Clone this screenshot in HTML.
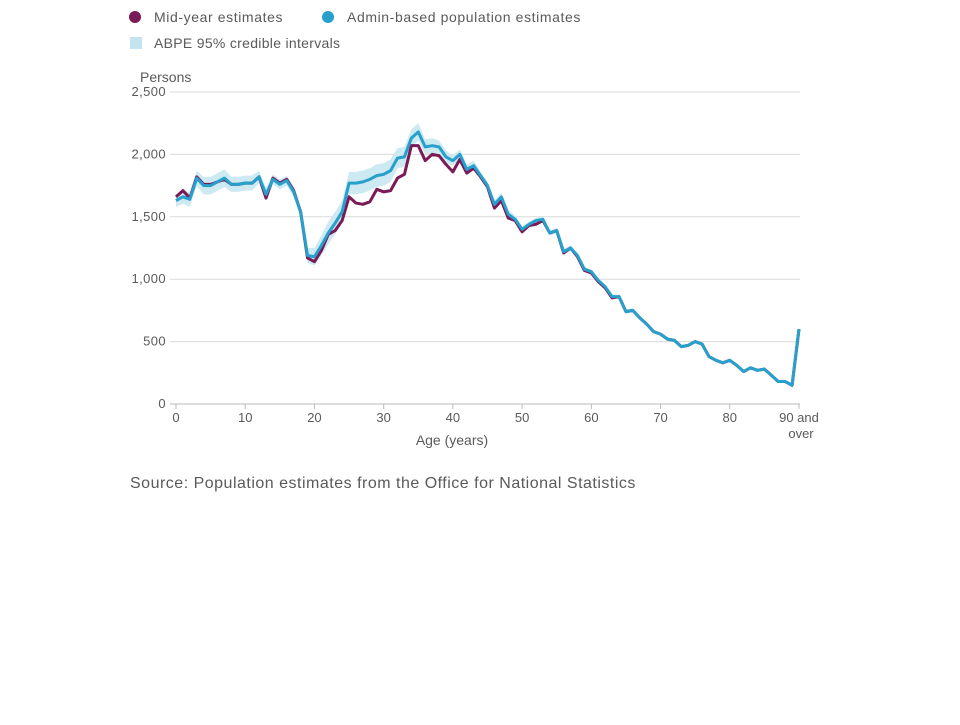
<!DOCTYPE html>
<html><head><meta charset="utf-8"><style>
body{margin:0;background:#fff;font-family:"Liberation Sans",sans-serif;}
svg text{font-family:"Liberation Sans",sans-serif;fill:#5a5a5a;}
</style></head><body>
<svg width="960" height="720" id="c">
<g>
<circle cx="135" cy="17" r="6" fill="#7a1a57"/>
<text x="154" y="22" font-size="14" letter-spacing="0.6">Mid-year estimates</text>
<circle cx="328" cy="17" r="6" fill="#27a0cc"/>
<text x="347" y="22" font-size="14" letter-spacing="0.6">Admin-based population estimates</text>
<rect x="130" y="37" width="12" height="12" fill="#c4e5ef"/>
<text x="154" y="48" font-size="14" letter-spacing="0.3">ABPE 95% credible intervals</text>
</g>
<text x="140" y="82" font-size="14">Persons</text>
<g id="grid"></g><g id="plot"></g><g id="xt"></g>
<text x="452" y="445" font-size="14" text-anchor="middle">Age (years)</text>
<text x="130" y="488" font-size="16" letter-spacing="0.5" fill="#5a5a5a">Source: Population estimates from the Office for National Statistics</text>
</svg>
<script>
const ages=[...Array(91).keys()];
const admin=[1630,1660,1640,1810,1750,1750,1780,1810,1760,1760,1770,1770,1820,1680,1800,1760,1790,1700,1540,1190,1180,1270,1370,1450,1540,1770,1770,1780,1800,1830,1840,1870,1970,1980,2130,2180,2060,2070,2060,1980,1950,2000,1880,1910,1830,1750,1600,1660,1520,1480,1400,1440,1470,1480,1370,1390,1220,1250,1190,1080,1060,990,940,860,860,740,750,690,640,580,560,520,510,460,470,500,480,380,350,330,350,310,260,290,270,280,230,180,180,150,600];
const midyear=[1660,1710,1650,1820,1760,1760,1780,1800,1760,1760,1770,1770,1820,1650,1810,1770,1800,1710,1540,1170,1140,1230,1360,1390,1470,1660,1610,1600,1620,1720,1700,1710,1810,1840,2070,2070,1950,2000,1990,1920,1860,1960,1850,1890,1820,1740,1570,1630,1490,1470,1380,1430,1440,1470,1370,1390,1210,1250,1180,1070,1050,980,930,850,860,740,750,690,640,580,560,520,510,460,470,500,480,380,350,330,350,310,260,290,270,280,230,180,180,150,600];
const bandWidth=[50,55,60,60,70,70,70,70,60,60,60,60,50,50,40,40,40,40,40,60,70,80,90,90,90,90,90,90,90,90,90,90,80,80,70,70,60,60,50,50,40,40,40,40,30,30,30,30,30,30,20,20,20,20,20,20,20,20,20,20,15,15,15,15,15,15,15,15,15,15,10,10,10,10,10,10,10,10,10,10,10,10,10,10,10,10,10,10,10,10,10];
const yTicks=[0,500,1000,1500,2000,2500];
const yLabels=["0","500","1,000","1,500","2,000","2,500"];
const xTicks=[0,10,20,30,40,50,60,70,80,90];
const NS="http://www.w3.org/2000/svg";
const X=a=>176+a*(799-176)/90, Y=v=>404-v*312/2500;
function mk(p,t,at){const e=document.createElementNS(NS,t);for(const k in at)e.setAttribute(k,at[k]);document.getElementById(p).appendChild(e);return e;}
yTicks.forEach((v,i)=>{
 const l=mk('grid','line',{x1:170,x2:800,y1:Y(v),y2:Y(v),stroke:v==0?'#bbb':'#d9d9d9','stroke-width':1});
 
 
 const t=mk('grid','text',{x:166,y:Y(v)+4,'font-size':13,'text-anchor':'end','letter-spacing':0.4});t.textContent=yLabels[i];
 
 
});
xTicks.forEach(a=>{
 const l=mk('xt','line',{x1:X(a),x2:X(a),y1:404,y2:409,stroke:'#bbb'});
 
 
 const t=mk('xt','text',{x:X(a),y:422,'font-size':13,'text-anchor':'middle'});
 t.textContent=a==90?'90 and':String(a);
 
 
});
const o=mk('xt','text',{x:X(90)+2,y:438,'font-size':13,'text-anchor':'middle'});o.textContent='over';


let up=ages.map(a=>X(a)+','+Y(admin[a]+bandWidth[a])),lo=ages.map(a=>X(a)+','+Y(Math.max(0,admin[a]-bandWidth[a]))).reverse();
const band=mk('plot','polygon',{points:up.concat(lo).join(' '),fill:'#cde9f1'});


const m=mk('plot','polyline',{points:ages.map(a=>X(a)+','+Y(midyear[a])).join(' '),fill:'none',stroke:'#7a1a57','stroke-width':3,'stroke-linejoin':'round'});


const b=mk('plot','polyline',{points:ages.map(a=>X(a)+','+Y(admin[a])).join(' '),fill:'none',stroke:'#27a0cc','stroke-width':3,'stroke-linejoin':'round'});


</script>
</body></html>
